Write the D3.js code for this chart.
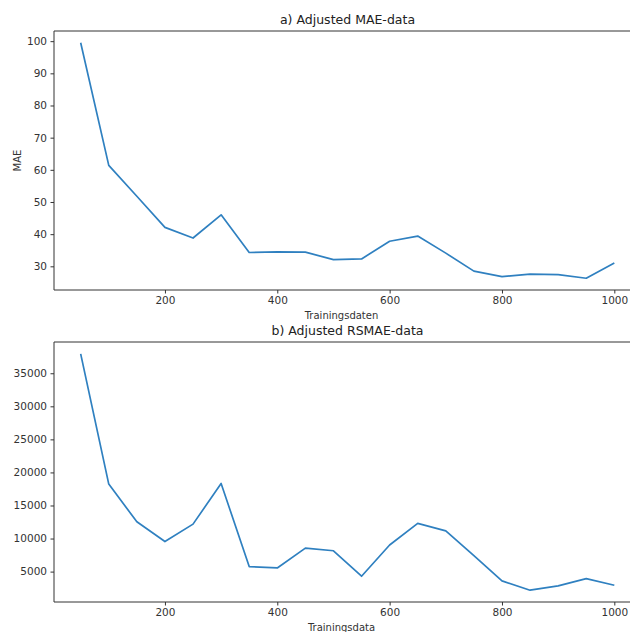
<!DOCTYPE html>
<html>
<head>
<meta charset="utf-8">
<script src="https://cdn.jsdelivr.net/npm/d3@7"></script>
<style>
  html, body { margin: 0; padding: 0; background: #fff; }
  svg { display: block; font-family: "DejaVu Sans", sans-serif; }
</style>
</head>
<body>
<svg id="chart" width="630" height="632"></svg>
<script>
const trainSizes = [50, 100, 150, 200, 250, 300, 350, 400, 450, 500, 550, 600, 650, 700, 750, 800, 850, 900, 950, 1000];
const maeValues = [99.5, 61.4, 51.8, 42.1, 38.8, 46.0, 34.3, 34.5, 34.4, 32.1, 32.3, 37.8, 39.4, 34.1, 28.5, 26.8, 27.6, 27.4, 26.3, 31.0];
const rsmaeValues = [37940, 18240, 12530, 9550, 12180, 18330, 5760, 5550, 8550, 8150, 4300, 9030, 12300, 11170, 7400, 3600, 2190, 2840, 3940, 2940];
const xTicks = [200, 400, 600, 800, 1000];
const maeTicks = [30, 40, 50, 60, 70, 80, 90, 100];
const rsmaeTicks = [5000, 10000, 15000, 20000, 25000, 30000, 35000];
const titles = ["a) Adjusted MAE-data", "b) Adjusted RSMAE-data"];
const xLabels = ["Trainingsdaten", "Trainingsdata"];
const yLabels = ["MAE", ""];

const svg = d3.select("#chart");
const lineColor = "#2f80c0";
const spineColor = "#333";

function margin(ext) { const d = (ext[1] - ext[0]) * 0.05; return [ext[0] - d, ext[1] + d]; }

function panel(cfg) {
  const g = svg.append("g");
  const x = d3.scaleLinear().domain(margin(d3.extent(trainSizes))).range([cfg.left, cfg.right]);
  const y = d3.scaleLinear().domain(margin(d3.extent(cfg.values))).range([cfg.bottom, cfg.top]);

  // spines
  g.append("line").attr("x1", cfg.left).attr("x2", cfg.left).attr("y1", cfg.top).attr("y2", cfg.bottom)
    .attr("stroke", spineColor).attr("stroke-width", 1);
  g.append("line").attr("x1", cfg.left).attr("x2", cfg.right).attr("y1", cfg.bottom).attr("y2", cfg.bottom)
    .attr("stroke", spineColor).attr("stroke-width", 1);
  g.append("line").attr("x1", cfg.left).attr("x2", cfg.right).attr("y1", cfg.top).attr("y2", cfg.top)
    .attr("stroke", spineColor).attr("stroke-width", 1);
  g.append("line").attr("x1", cfg.right).attr("x2", cfg.right).attr("y1", cfg.top).attr("y2", cfg.bottom)
    .attr("stroke", spineColor).attr("stroke-width", 1);

  const xAxis = d3.axisBottom(x).tickValues(xTicks).tickSize(3.5).tickPadding(3.5).tickFormat(d3.format("d"));
  const xa = g.append("g").attr("transform", `translate(0,${cfg.bottom})`).call(xAxis);
  const yAxis = d3.axisLeft(y).tickValues(cfg.ticks).tickSize(3.5).tickPadding(3.5).tickFormat(d3.format("d"));
  const ya = g.append("g").attr("transform", `translate(${cfg.left},0)`).call(yAxis);
  [xa, ya].forEach(a => {
    a.select(".domain").remove();
    a.selectAll(".tick line").attr("stroke", spineColor);
    a.selectAll(".tick text").attr("fill", "#333").style("font-size", "10.5px").style("font-family", "DejaVu Sans, sans-serif");
  });

  const clipId = "clip" + cfg.id;
  svg.append("clipPath").attr("id", clipId).append("rect")
    .attr("x", cfg.left).attr("y", cfg.top).attr("width", cfg.right - cfg.left).attr("height", cfg.bottom - cfg.top);

  g.append("path").datum(trainSizes.map((t, i) => [t, cfg.values[i]]))
    .attr("clip-path", `url(#${clipId})`)
    .attr("fill", "none").attr("stroke", lineColor).attr("stroke-width", 1.7)
    .attr("stroke-linejoin", "round")
    .attr("d", d3.line().x(d => x(d[0])).y(d => y(d[1])));

  const cx = (cfg.left + cfg.right) / 2;
  g.append("text").attr("x", cx).attr("y", cfg.top - 7).attr("text-anchor", "middle")
    .attr("fill", "#222").style("font-size", "12.5px").text(cfg.title);
  g.append("text").attr("x", cx - 6).attr("y", cfg.bottom + 29).attr("text-anchor", "middle")
    .attr("fill", "#333").style("font-size", "10px").text(cfg.xLabel);
  if (cfg.yLabel) {
    g.append("text").attr("transform", `translate(21,${(cfg.top + cfg.bottom) / 2}) rotate(-90)`)
      .attr("text-anchor", "middle").attr("fill", "#333").style("font-size", "10px").text(cfg.yLabel);
  }
}

panel({ id: "a", left: 54, right: 641, top: 31, bottom: 290, values: maeValues, ticks: maeTicks,
        title: titles[0], xLabel: xLabels[0], yLabel: yLabels[0] });
panel({ id: "b", left: 54, right: 641, top: 342, bottom: 602, values: rsmaeValues, ticks: rsmaeTicks,
        title: titles[1], xLabel: xLabels[1], yLabel: yLabels[1] });
</script>
</body>
</html>
